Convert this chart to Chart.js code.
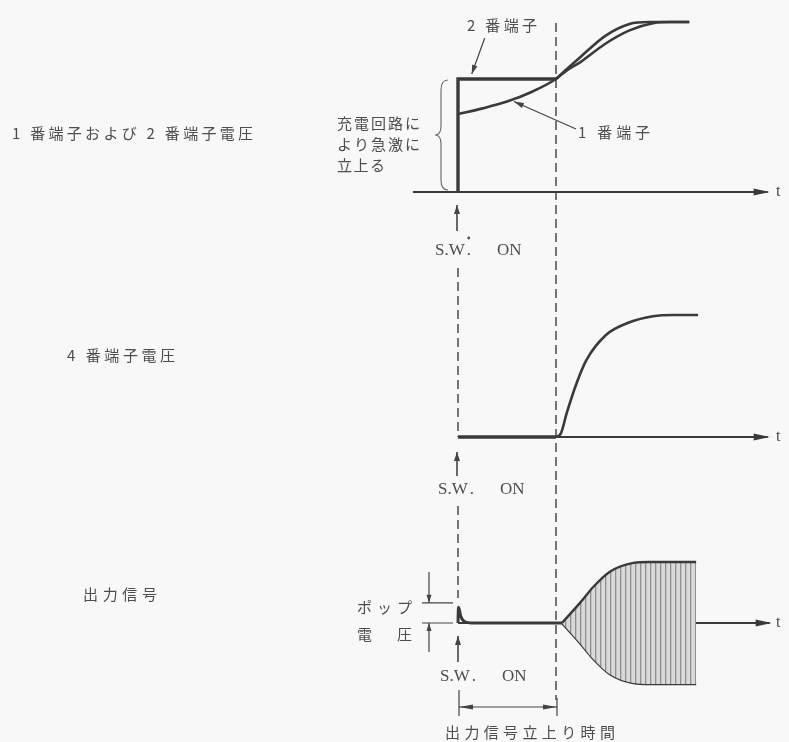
<!DOCTYPE html>
<html>
<head>
<meta charset="utf-8">
<script src="https://cdn.jsdelivr.net/npm/chart.js@4/dist/chart.umd.min.js"></script>
<style>
  html, body { margin: 0; padding: 0; background: #f8f8f8; }
  #wrap { width: 789px; height: 742px; }
</style>
</head>
<body>
<div id="wrap"><canvas id="c" width="789" height="742"></canvas></div>
<script>
// ---- Data (time in units of the output-signal rise time; voltages relative) ----
// Top panel: pin 1 and pin 2 voltage
const topAxisT = [-0.46, 3.16];
const term2StepT = [0, 0, 1];
const term2StepV = [0, 1, 1];
const term2RiseT = [1, 1.1, 1.25, 1.5, 1.75, 1.95, 2.36];
const term2RiseV = [1, 1.08, 1.195, 1.38, 1.487, 1.504, 1.504];
const term1T = [0, 0.25, 0.5, 0.75, 1, 1.1, 1.25, 1.5, 1.75, 2.0, 2.15, 2.36];
const term1V = [0.69, 0.74, 0.80, 0.885, 1.0, 1.07, 1.15, 1.31, 1.43, 1.495, 1.504, 1.504];
// Middle panel: pin 4 voltage
const midAxisT = [0, 3.16];
const pin4FlatT = [0, 1];
const pin4FlatV = [0, 0];
const pin4RiseT = [1.0, 1.05, 1.11, 1.21, 1.31, 1.51, 1.75, 1.99, 2.2, 2.45];
const pin4RiseV = [0, 0.03, 0.197, 0.44, 0.63, 0.836, 0.94, 0.99, 1.0, 1.0];
// Bottom panel: output signal
const botAxisT = [0, 3.18];
const outFlatT = [0, 0.005, 0.03, 0.07, 0.14, 1.07];
const outFlatV = [0, 0.26, 0.1, 0.02, 0, 0];
const envT = [1.06, 1.245, 1.38, 1.55, 1.79, 1.95, 2.43];
const envUpper = [0, 0.33, 0.59, 0.84, 0.985, 1.0, 1.0];
const envLower = [0, -0.33, -0.59, -0.84, -0.985, -1.0, -1.0];
const popLevel = 0.33;
const swOnT = 0;       // switch on
const riseEndT = 1;    // end of output rise time

// ---- helpers ----
const pts = (xs, ys) => xs.map((x, i) => ({ x, y: ys[i] }));
const flat = (xs, v) => xs.map(x => ({ x, y: v }));
const INK = '#3a3a3a';
const TXT = '#4d4d4d';

// hatch pattern for output signal
const pc = document.createElement('canvas');
pc.width = 5; pc.height = 4;
const pctx = pc.getContext('2d');
pctx.fillStyle = 'rgb(218,218,218)';
pctx.fillRect(0, 0, 5, 4);
pctx.fillStyle = '#8f8f8f';
pctx.fillRect(0, 0, 1.3, 4);
const hatch = pctx.createPattern(pc, 'repeat');

function line(data, axis, width, extra) {
  return Object.assign({
    data, yAxisID: axis, showLine: true, borderColor: INK, borderWidth: width,
    pointRadius: 0, fill: false, cubicInterpolationMode: 'monotone', borderCapStyle: 'butt'
  }, extra || {});
}

const datasets = [
  line(flat(topAxisT, 0), 'yTop', 2),
  line(pts(term1T, term1V), 'yTop', 2.6),
  line(pts(term2RiseT, term2RiseV), 'yTop', 2.6),
  line(pts(term2StepT, term2StepV), 'yTop', 3.4, { tension: 0, cubicInterpolationMode: 'default', borderJoinStyle: 'miter' }),
  line(flat(midAxisT, 0), 'yMid', 2),
  line(pts(pin4FlatT, pin4FlatV), 'yMid', 3.6, { tension: 0, cubicInterpolationMode: 'default' }),
  line(pts(pin4RiseT, pin4RiseV), 'yMid', 2.6),
  line(pts(envT, envUpper), 'yBot', 2.4, { fill: '+1', backgroundColor: hatch }),
  line(pts(envT, envLower), 'yBot', 2.4),
  line(flat(botAxisT, 0), 'yBot', 2),
  line(pts(outFlatT, outFlatV), 'yBot', 3)
];

// ---- drawing helpers ----
function spacedText(ctx, str, x, y, width, font) {
  ctx.font = font;
  const chars = Array.from(str);
  const ws = chars.map(c => ctx.measureText(c).width);
  const total = ws.reduce((a, b) => a + b, 0);
  const gap = chars.length > 1 ? (width - total) / (chars.length - 1) : 0;
  let cx = x;
  chars.forEach((c, i) => { ctx.fillText(c, cx, y); cx += ws[i] + gap; });
}
function arrowHead(ctx, x1, y1, x2, y2, len, half) {
  const a = Math.atan2(y2 - y1, x2 - x1);
  ctx.beginPath();
  ctx.moveTo(x2, y2);
  ctx.lineTo(x2 - len * Math.cos(a) + half * Math.sin(a), y2 - len * Math.sin(a) - half * Math.cos(a));
  ctx.lineTo(x2 - len * Math.cos(a) - half * Math.sin(a), y2 - len * Math.sin(a) + half * Math.cos(a));
  ctx.closePath();
  ctx.fill();
}
function arrow(ctx, x1, y1, x2, y2, w, len, half) {
  ctx.lineWidth = w;
  ctx.beginPath(); ctx.moveTo(x1, y1); ctx.lineTo(x2, y2); ctx.stroke();
  arrowHead(ctx, x1, y1, x2, y2, len, half);
}
function vdash(ctx, x, y1, y2) {
  ctx.save();
  ctx.setLineDash([9, 5]);
  ctx.lineWidth = 1.6;
  ctx.strokeStyle = '#555';
  ctx.beginPath(); ctx.moveTo(x, y1); ctx.lineTo(x, y2); ctx.stroke();
  ctx.restore();
}
function swOn(ctx, x, y, mark) {
  ctx.font = '17px "Liberation Serif"';
  ctx.fillText('S.W', x, y);
  const w = ctx.measureText('S.W').width;
  ctx.fillText('.', x + w + 2, y);
  if (mark) { ctx.beginPath(); ctx.arc(x + w + 4, y - 13, 1.4, 0, Math.PI * 2); ctx.fill(); }
  ctx.fillText('ON', x + 62, y);
}

const guides = {
  id: 'guides',
  beforeDatasetsDraw(chart) {
    const ctx = chart.ctx, s = chart.scales;
    const x0 = s.x.getPixelForValue(swOnT), x1 = s.x.getPixelForValue(riseEndT);
    vdash(ctx, x1, 23, 700);
    vdash(ctx, x0, 268, s.yMid.getPixelForValue(0));
    vdash(ctx, x0, 506, 598);
  },
  afterDatasetsDraw(chart) {
    const ctx = chart.ctx, s = chart.scales;
    const X = v => s.x.getPixelForValue(v);
    const x0 = X(swOnT), x1 = X(riseEndT);
    const yT = s.yTop.getPixelForValue(0), yM = s.yMid.getPixelForValue(0), yB = s.yBot.getPixelForValue(0);
    ctx.save();
    ctx.strokeStyle = INK; ctx.fillStyle = INK;
    // axis arrowheads
    arrowHead(ctx, 0, yT, X(topAxisT[1]) + 2, yT, 16, 3.5);
    arrowHead(ctx, 0, yM, X(midAxisT[1]) + 2, yM, 16, 3.5);
    arrowHead(ctx, 0, yB, X(botAxisT[1]) + 2, yB, 16, 3.5);
    // S.W. ON arrows
    ctx.strokeStyle = '#444'; ctx.fillStyle = '#444';
    arrow(ctx, x0 - 1, 231, x0 - 1, 205, 1.6, 9, 3);
    arrow(ctx, x0 - 1, 476, x0 - 1, 452, 1.6, 9, 3);
    arrow(ctx, x0, 662, x0, 636, 1.6, 9, 3);
    // pop voltage marks
    const yPop = s.yBot.getPixelForValue(popLevel);
    ctx.lineWidth = 1.2;
    ctx.beginPath();
    ctx.moveTo(422, yPop); ctx.lineTo(453, yPop);
    ctx.moveTo(422, yB); ctx.lineTo(453, yB);
    ctx.stroke();
    arrow(ctx, 429, 572, 429, yPop, 1.2, 8, 2.5);
    arrow(ctx, 429, 652, 429, yB, 1.2, 8, 2.5);
    // dimension line for rise time
    ctx.lineWidth = 1.2;
    ctx.beginPath();
    ctx.moveTo(x0 + 1, 690); ctx.lineTo(x0 + 1, 716);
    ctx.moveTo(x1 + 1, 698); ctx.lineTo(x1 + 1, 716);
    ctx.moveTo(x0 + 1, 707); ctx.lineTo(x1 + 1, 707);
    ctx.stroke();
    arrowHead(ctx, x1, 707, x0 + 1, 707, 14, 2.5);
    arrowHead(ctx, x0, 707, x1 + 1, 707, 14, 2.5);
    // label arrows for terminal curves
    const tip2x = X(0.14), tip2y = s.yTop.getPixelForValue(1) - 5;
    arrow(ctx, tip2x + 13, 38, tip2x, tip2y, 1.2, 9, 2.8);
    const tip1x = X(0.57), tip1y = s.yTop.getPixelForValue(0.81) + 1;
    arrow(ctx, 576, 129, tip1x, tip1y, 1.2, 10, 2.8);
    // brace
    ctx.lineWidth = 1.1; ctx.strokeStyle = '#666';
    ctx.beginPath();
    ctx.moveTo(448, 80);
    ctx.quadraticCurveTo(441, 80, 441, 90);
    ctx.lineTo(441, 126);
    ctx.quadraticCurveTo(441, 135, 435, 135);
    ctx.quadraticCurveTo(441, 135, 441, 144);
    ctx.lineTo(441, 180);
    ctx.quadraticCurveTo(441, 190, 448, 190);
    ctx.stroke();

    // texts
    ctx.fillStyle = TXT;
    ctx.textBaseline = 'middle';
    ctx.textAlign = 'left';
    const J = '15px "Noto Sans CJK JP"';
    spacedText(ctx, '1 番端子および 2 番端子電圧', 12, 133, 241, J);
    spacedText(ctx, '4 番端子電圧', 67, 355, 108, J);
    spacedText(ctx, '出力信号', 83, 594, 74, J);
    spacedText(ctx, '充電回路に', 337, 123, 83, J);
    spacedText(ctx, 'より急激に', 337, 144, 83, J);
    spacedText(ctx, '立上る', 337, 165, 48, J);
    spacedText(ctx, '2 番端子', 467, 25, 70, J);
    spacedText(ctx, '1 番端子', 578, 132, 72, J);
    spacedText(ctx, 'ポップ', 357, 607, 55, J);
    spacedText(ctx, '電 圧', 357, 634, 55, J);
    spacedText(ctx, '出力信号立上り時間', 445, 732, 170, J);
    swOn(ctx, 435, 251, true);
    swOn(ctx, 438, 490, false);
    swOn(ctx, 440, 677, false);
    ctx.font = '16px "Liberation Serif"';
    ctx.fillText('t', 776, yT);
    ctx.fillText('t', 776, yM);
    ctx.fillText('t', 776, yB);
    ctx.restore();
  }
};

new Chart(document.getElementById('c'), {
  type: 'scatter',
  data: { datasets },
  options: {
    responsive: false,
    animation: false,
    events: [],
    layout: { padding: 0 },
    plugins: { legend: { display: false }, tooltip: { enabled: false }, title: { display: false } },
    scales: {
      x: { type: 'linear', display: false, min: -458 / 98, max: (789 - 458) / 98 },
      yTop: { type: 'linear', display: false, min: -(742 - 192) / 113, max: 192 / 113 },
      yMid: { type: 'linear', display: false, min: -(742 - 437) / 122, max: 437 / 122 },
      yBot: { type: 'linear', display: false, min: -(742 - 623) / 61, max: 623 / 61 }
    }
  },
  plugins: [guides]
});
</script>
</body>
</html>
